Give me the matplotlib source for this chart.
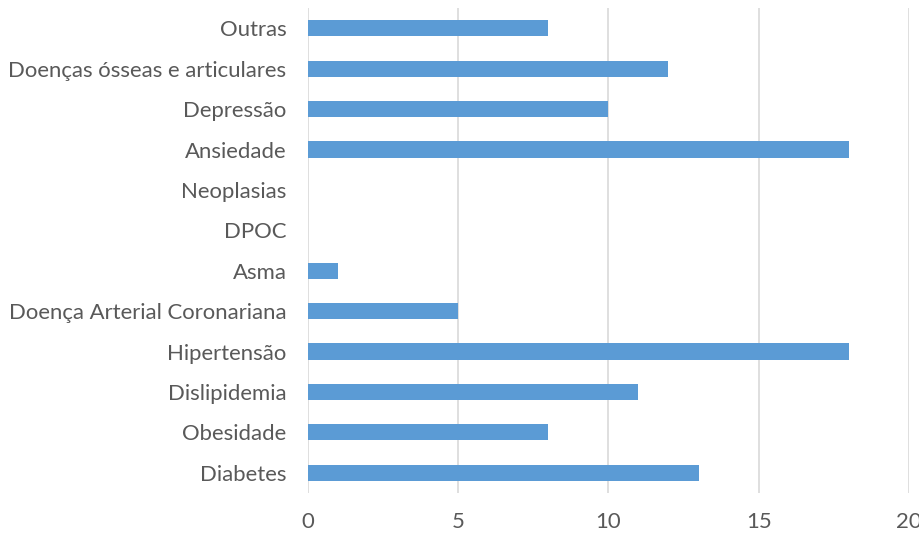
import matplotlib
matplotlib.use('Agg')
import matplotlib.pyplot as plt

categories = ['Diabetes', 'Obesidade', 'Dislipidemia', 'Hipertensão',
              'Doença Arterial Coronariana', 'Asma', 'DPOC', 'Neoplasias',
              'Ansiedade', 'Depressão', 'Doenças ósseas e articulares', 'Outras']
counts = [13, 8, 11, 18, 5, 1, 0, 0, 18, 10, 12, 8]
xticks = [0, 5, 10, 15, 20]

BAR = '#5B9BD5'
GRID = '#D9D9D9'
TEXT = '#595959'

plt.rcParams['font.family'] = ['Lato', 'DejaVu Sans']

fig = plt.figure(figsize=(9.2, 5.38), dpi=100)
ax = fig.add_axes([0.3348, 0.0836, 0.653, 0.9014])

ax.barh(range(len(categories)), counts, height=0.4, color=BAR, zorder=3)

ax.set_xlim(0, 20)
ax.set_ylim(-0.5, len(categories) - 0.5)
ax.set_xticks(xticks)
ax.set_yticks(range(len(categories)))
ax.set_yticklabels(categories)
ax.xaxis.grid(True, color=GRID, linewidth=1.2, zorder=0)
for s in ax.spines.values():
    s.set_visible(False)
ax.tick_params(axis='both', length=0, labelsize=15.9, colors=TEXT)
ax.tick_params(axis='x', pad=14)
ax.tick_params(axis='y', pad=15.5)

fig.savefig('out.png', dpi=100, facecolor='white')
